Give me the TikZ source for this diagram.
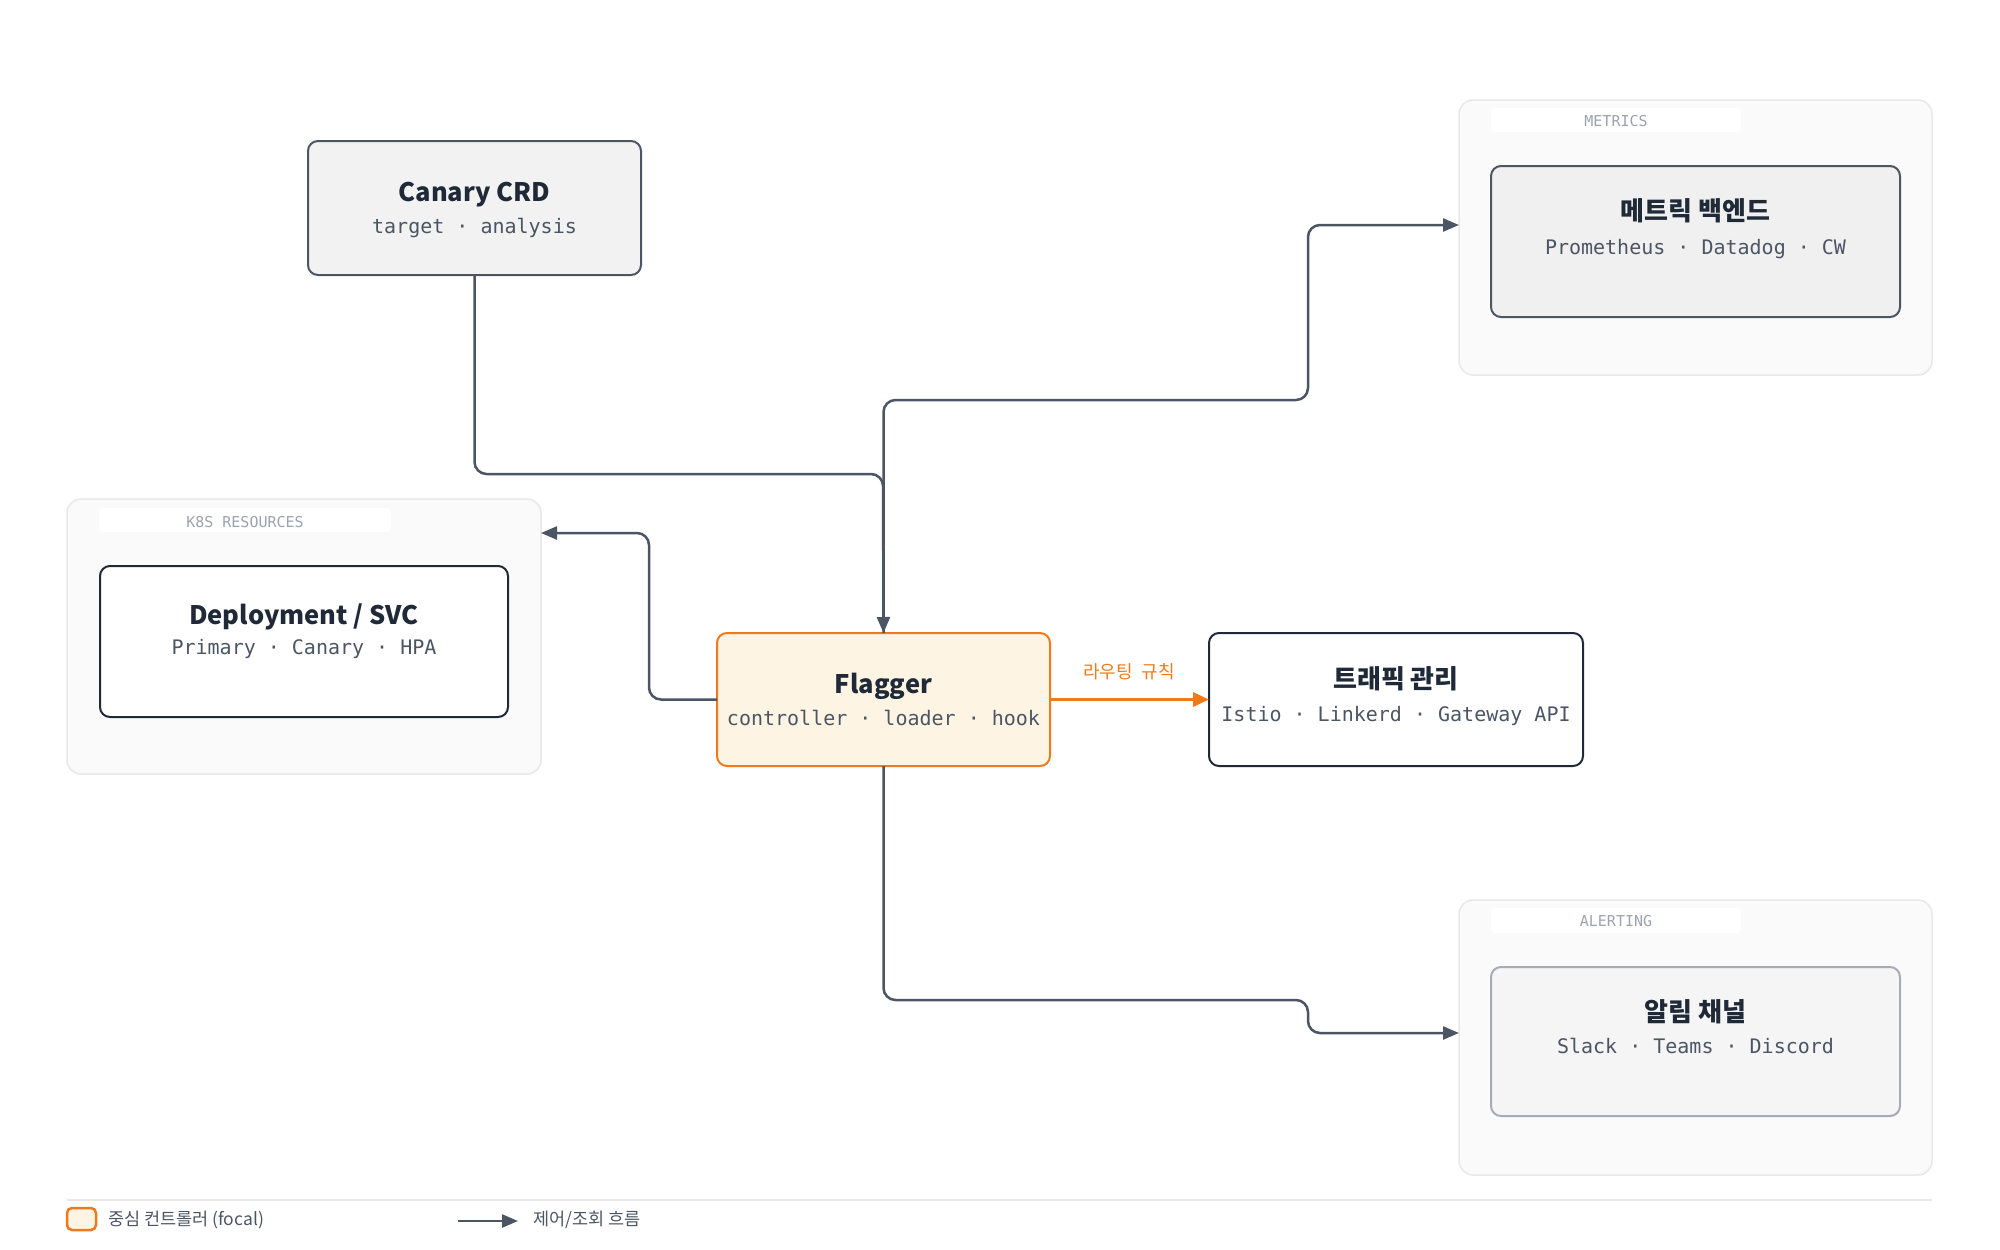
\documentclass[tikz,border=0pt]{standalone}
\usepackage{fontspec}
\setmainfont{Noto Sans}
\setmonofont{DejaVu Sans Mono}
\newfontfamily\krfont{Noto Sans CJK KR}
\usetikzlibrary{arrows.meta}
\definecolor{ink}{HTML}{1F2937}
\definecolor{slate}{HTML}{4B5563}
\definecolor{mute}{HTML}{9CA3AF}
\definecolor{edge}{HTML}{E8E8E8}
\definecolor{panel}{HTML}{FAFAFA}
\definecolor{focal}{HTML}{F07A1A}
\definecolor{focalbg}{HTML}{FEF4E4}

\begin{document}
\begin{tikzpicture}
			[x=1pt,y=-1pt]
			\tikzstyle{every node}=[inner sep=0pt, outer sep=0pt]
			\tikzstyle{panelbox}=[draw=edge, fill=panel, line width=1.5pt, rounded corners=14pt]
			\tikzstyle{tagbox}=[fill=white, rounded corners=4pt]
			\tikzstyle{card}=[rounded corners=10pt, line width=2pt]
			\tikzstyle{title}=[anchor=base, font=\krfont\fontsize{25.5}{30}\selectfont\bfseries, text=ink]
			\tikzstyle{ktitle}=[anchor=base, font=\krfont\fontsize{26}{30}\selectfont\bfseries, text=ink]
			\tikzstyle{sub}=[anchor=base, font=\ttfamily\fontsize{20}{24}\selectfont, text=slate]
			\tikzstyle{tag}=[anchor=base, font=\ttfamily\fontsize{15}{18}\selectfont, text=mute]
			\tikzstyle{note}=[anchor=base west, font=\krfont\fontsize{17.5}{20}\selectfont, text=slate]
			\tikzstyle{flow}=[draw=slate, line width=2.5pt, rounded corners=12pt, -{Triangle[length=16pt,width=13pt]}]
			\tikzstyle{route}=[draw=focal, line width=3.5pt, -{Triangle[length=16pt,width=14pt]}]
			\useasboundingbox (0,0) rectangle (2000,1250);
			
			% groups
			\node[panelbox, minimum width=474pt, minimum height=275pt] (k8s) at (304,636.5) {};
			\node[tagbox, minimum width=292pt, minimum height=24pt] (k8stag) at (245,520) {};
			\node[tag] (k8sname) at (245,527) {K8S RESOURCES};
			\node[panelbox, minimum width=473pt, minimum height=275pt] (met) at (1695.5,237.5) {};
			\node[tagbox, minimum width=250pt, minimum height=24pt] (mettag) at (1616,120) {};
			\node[tag] (metname) at (1616,126) {METRICS};
			\node[panelbox, minimum width=473pt, minimum height=275pt] (alr) at (1695.5,1037.5) {};
			\node[tagbox, minimum width=250pt, minimum height=25pt] (alrtag) at (1616,920.5) {};
			\node[tag] (alrname) at (1616,926) {ALERTING};
			
			% boxes
			\node[card, draw=slate, fill=gray!10, minimum width=333pt, minimum height=134pt] (crd) at (474.5,208) {};
			\node[title] (crdt) at (474.5,201) {Canary CRD};
			\node[sub] (crds) at (474.5,233) {target · analysis};
			
			\node[card, draw=ink, fill=white, minimum width=408pt, minimum height=151pt] (dep) at (304,641.5) {};
			\node[title] (dept) at (304,624) {Deployment / SVC};
			\node[sub] (deps) at (304,654) {Primary · Canary · HPA};
			
			\node[card, draw=slate, fill=black!6, minimum width=409pt, minimum height=151pt] (metbox) at (1695.5,241.5) {};
			\node[ktitle] (metboxt) at (1695.5,220) {메트릭 백엔드};
			\node[sub] (metboxs) at (1695.5,254) {Prometheus · Datadog · CW};
			
			\node[card, draw=focal, fill=focalbg, minimum width=333pt, minimum height=133pt] (flg) at (883.5,699.5) {};
			\node[title] (flgt) at (883.5,693) {Flagger};
			\node[sub] (flgs) at (883.5,725) {controller · loader · hook};
			
			\node[card, draw=ink, fill=white, minimum width=374pt, minimum height=133pt] (trf) at (1396,699.5) {};
			\node[ktitle] (trft) at (1396,688) {트래픽 관리};
			\node[sub] (trfs) at (1396,721) {Istio · Linkerd · Gateway API};
			
			\node[card, draw=mute!90, fill=gray!8, minimum width=409pt, minimum height=149pt] (alrbox) at (1695.5,1041.5) {};
			\node[ktitle] (alrboxt) at (1695.5,1021) {알림 채널};
			\node[sub] (alrboxs) at (1695.5,1053) {Slack · Teams · Discord};
			
			% connectors
			\coordinate (j1) at (883,474);
			\coordinate (j2) at (1308,400);
			\coordinate (m1) at (1308,225);
			\coordinate (j3) at (649,533);
			\coordinate (j4) at (1308,1000);
			\coordinate (a1) at (1308,1033);
			
			\draw[flow] (crd.south) |- (j1) -- (flg.north);
			\draw[flow] (flg.north) |- (j2) -- (m1) -- (met.west |- m1);
			\draw[flow] (flg.west) -| (j3) -- (k8s.east |- j3);
			\draw[flow] (flg.south) |- (j4) -- (a1) -- (alr.west |- a1);
			\draw[route] (flg.east) -- (trf.west);
			\node[anchor=base, font=\krfont\fontsize{18}{22}\selectfont, text=focal] (rt) at (1129,678) {라우팅\enspace 규칙};
			
			% legend
			\coordinate (ll) at (67,1200);
			\coordinate (lr) at (1932,1200);
			\draw[draw=edge, line width=2pt] (ll) -- (lr);
			\node[draw=focal, fill=focalbg, line width=2.5pt, rounded corners=5pt, minimum width=29pt, minimum height=22pt] (sw) at (81.5,1219) {};
			\node[note] (swt) at (108,1225) {중심 컨트롤러 (focal)};
			\coordinate (la) at (458,1221);
			\coordinate (lb) at (518,1221);
			\draw[flow] (la) -- (lb);
			\node[note] (lbt) at (533,1225) {제어/조회 흐름};
		\end{tikzpicture}
\end{document}
